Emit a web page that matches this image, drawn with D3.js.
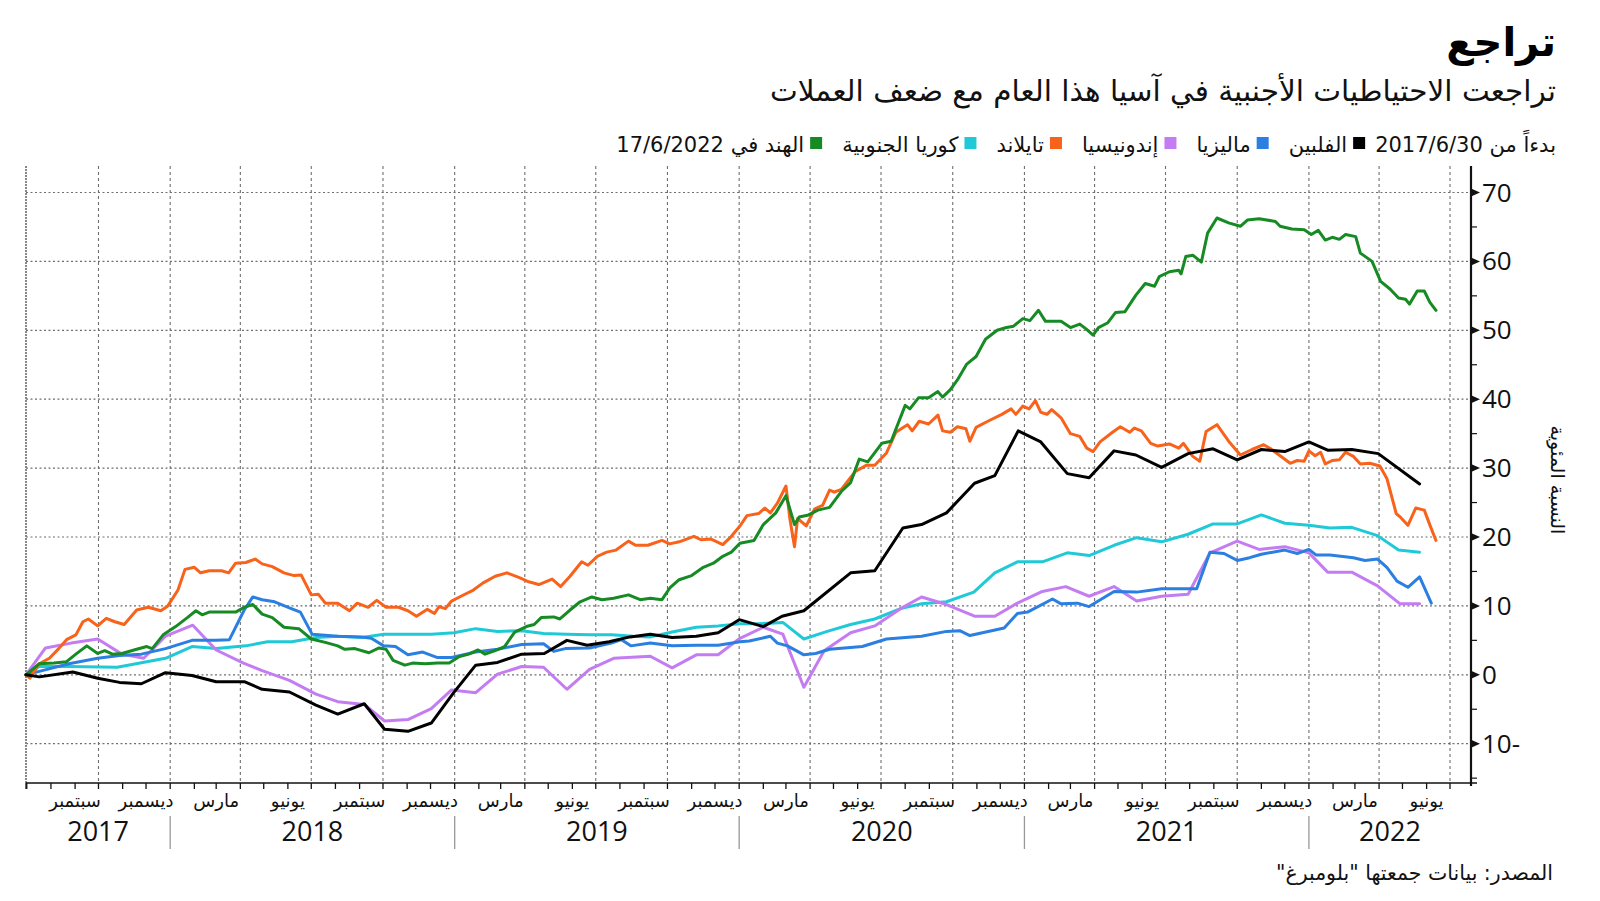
<!DOCTYPE html>
<html><head><meta charset="utf-8">
<script src="https://cdn.jsdelivr.net/npm/d3@7"></script>
<style>
body{margin:0;background:#fff}
svg{display:block}
.ar{font-family:"DejaVu Sans",sans-serif;direction:rtl;unicode-bidi:embed}
.num{font-family:"Open Sans",sans-serif}
</style>
</head><body>
<svg id="c" width="1600" height="901"></svg>
<script>
// ---------------- DATA ----------------
// x values are days since 30/6/2017; y values are percentage change
const startDate = new Date(2017, 5, 30);
const endDate = new Date(2022, 6, 1);

const titleText = "تراجع";
const subtitleText = "تراجعت الاحتياطيات الأجنبية في آسيا هذا العام مع ضعف العملات";
const legendLead = "بدءاً من 2017/6/30";
const legendTail = "في 17/6/2022";
const sourceText = "المصدر: بيانات جمعتها \"بلومبرغ\"";
const yAxisTitle = "النسبة المئوية";

const seriesNames = ["الفلبين", "ماليزيا", "إندونيسيا", "تايلاند", "كوريا الجنوبية", "الهند"];
const seriesColors = ["#000000", "#2a7fe0", "#c47cf2", "#f8621a", "#20c9d6", "#168a23"];

// Philippines (black)
const phDays = [0,17,60,92,120,148,179,213,244,280,303,338,372,400,434,460,490,520,548,577,605,636,665,694,720,748,775,801,829,860,888,915,946,970,998,1058,1089,1125,1149,1181,1217,1243,1273,1302,1336,1364,1396,1424,1457,1491,1523,1554,1585,1615,1646,1670,1701,1735,1788];
const phValues = [0,-0.3,0.4,-0.5,-1.1,-1.3,0.3,-0.1,-1.0,-1.0,-2.1,-2.5,-4.4,-5.7,-4.2,-7.9,-8.2,-7.0,-2.7,1.4,1.8,3.0,3.1,5.0,4.3,4.8,5.5,5.9,5.4,5.6,6.1,8.0,7.0,8.5,9.3,14.8,15.1,21.3,21.8,23.5,27.8,28.9,35.4,33.8,29.2,28.6,32.5,31.9,30.1,32.1,32.8,31.2,32.7,32.4,33.8,32.6,32.7,32.1,27.7];

// Malaysia (blue)
const myDays = [0,17,55,92,120,148,179,213,244,261,280,291,303,319,338,352,367,400,431,443,459,474,490,509,528,546,577,605,636,664,677,692,723,751,764,776,801,829,860,888,916,928,955,964,977,998,1013,1031,1073,1104,1149,1181,1198,1211,1255,1272,1285,1317,1328,1349,1364,1396,1425,1457,1502,1519,1537,1554,1570,1585,1615,1631,1646,1655,1673,1703,1718,1734,1746,1759,1773,1788,1803];
const myValues = [0,0.5,1.6,2.4,2.8,3.0,3.8,5.0,5.0,5.1,9.4,11.3,10.9,10.6,9.7,9.1,5.9,5.6,5.5,5.3,4.2,4.1,2.9,3.3,2.5,2.5,3.3,3.7,4.4,4.5,3.4,3.8,3.9,4.6,5.1,4.2,4.6,4.2,4.3,4.3,4.8,4.9,5.6,4.6,4.2,2.9,3.1,3.7,4.1,5.2,5.6,6.3,6.4,5.7,6.8,8.9,9.1,11.0,10.3,10.4,9.9,12.1,12.0,12.5,12.5,17.8,17.6,16.6,17.0,17.5,18.1,17.6,18.2,17.4,17.4,17.0,16.6,16.8,15.6,13.6,12.7,14.2,10.4];

// Indonesia (purple)
const idDays = [0,25,58,92,123,151,179,214,244,279,303,338,372,400,434,460,490,520,546,577,605,636,664,694,723,754,801,829,860,888,916,946,971,998,1024,1058,1089,1122,1149,1181,1217,1243,1272,1304,1334,1364,1396,1425,1457,1491,1519,1554,1582,1615,1646,1670,1701,1734,1763,1788];
const idValues = [0,3.9,4.6,5.2,3.0,2.4,5.6,7.2,3.6,1.7,0.6,-0.8,-2.8,-3.9,-4.3,-6.7,-6.5,-4.9,-2.2,-2.6,0.1,1.2,1.1,-2.1,0.8,2.4,2.7,1.0,2.9,2.9,5.3,6.9,5.9,-1.8,3.5,6.1,7.1,9.6,11.3,10.2,8.5,8.5,10.4,12.1,12.8,11.4,12.8,10.7,11.4,11.7,17.7,19.4,18.2,18.6,17.7,14.9,14.9,12.9,10.3,10.3];

// Thailand (orange)
const thDays = [0,5,17,30,42,52,64,73,80,92,103,114,126,142,157,173,182,195,204,216,224,235,251,260,269,282,294,303,316,331,344,353,366,375,384,400,415,425,439,450,462,478,490,501,515,524,530,538,546,558,574,586,602,617,633,645,658,675,686,698,713,721,733,745,757,773,782,798,816,826,838,857,866,879,894,905,916,925,940,948,955,964,975,980,986,990,1001,1012,1022,1031,1037,1046,1064,1078,1089,1104,1116,1131,1137,1146,1158,1170,1176,1186,1195,1206,1211,1219,1234,1252,1264,1270,1279,1287,1295,1302,1310,1316,1328,1340,1352,1361,1369,1378,1394,1404,1416,1422,1431,1443,1452,1467,1479,1485,1497,1506,1514,1528,1543,1558,1573,1588,1597,1609,1622,1631,1640,1646,1654,1661,1667,1676,1685,1693,1703,1712,1724,1737,1746,1758,1764,1773,1783,1794,1801,1809];
const thValues = [0,-0.5,1.6,2.4,3.8,5.1,5.8,7.7,8.1,7.1,8.2,7.7,7.3,9.4,9.8,9.3,10.0,12.3,15.3,15.6,14.8,15.1,15.1,14.8,16.2,16.3,16.8,16.1,15.7,14.8,14.4,14.5,11.6,11.7,10.4,10.4,9.3,10.4,9.8,10.8,9.8,9.8,9.3,8.5,9.5,8.9,9.9,9.6,10.7,11.4,12.3,13.3,14.3,14.8,14.1,13.5,13.1,13.9,12.8,14.3,16.4,15.9,17.2,17.8,18.1,19.4,18.8,18.8,19.5,19.0,19.3,20.1,19.6,19.7,18.9,20.1,21.6,23.1,23.4,24.2,23.5,24.9,27.4,22.7,18.6,22.7,21.6,24.1,24.6,26.8,26.5,26.9,29.5,30.4,30.4,32.2,35.2,36.3,35.4,36.8,36.4,37.7,35.4,35.2,36.0,35.7,33.9,35.9,36.8,37.8,38.6,37.8,39.0,38.6,39.8,38.1,37.8,38.5,37.3,35.0,34.6,32.9,32.4,33.8,35.2,36.0,35.2,35.8,35.4,33.6,33.2,33.5,32.9,33.6,31.7,31.0,35.3,36.3,33.9,31.9,32.7,33.4,32.8,31.8,30.7,31.1,31.0,32.5,31.8,32.3,30.6,31.1,31.2,32.3,31.7,30.6,30.7,30.3,28.5,23.4,22.8,21.7,24.2,23.9,21.8,19.5];

// South Korea (cyan)
const krDays = [0,17,55,117,179,213,244,282,310,341,372,400,431,459,490,520,549,577,605,636,664,694,723,751,779,801,829,860,888,916,940,971,998,1028,1058,1089,1122,1149,1181,1216,1243,1272,1304,1336,1364,1396,1425,1457,1491,1523,1554,1585,1615,1646,1673,1701,1734,1761,1788];
const krValues = [0,1.2,1.2,1.1,2.4,4.1,3.8,4.2,4.8,4.8,5.4,5.6,5.4,5.9,5.9,5.9,6.1,6.7,6.3,6.4,6.0,5.9,5.8,5.8,5.6,5.5,6.2,6.9,7.1,7.4,7.4,7.6,5.2,6.3,7.3,8.1,9.6,10.3,10.6,12.0,14.8,16.4,16.4,17.7,17.3,18.8,19.9,19.3,20.4,21.9,21.9,23.2,22.0,21.7,21.3,21.4,20.2,18.1,17.8];

// India (green)
const inDays = [0,17,36,52,64,78,92,101,111,123,142,155,162,176,192,207,218,226,235,257,269,280,291,303,316,331,350,366,384,400,409,422,440,453,462,471,486,496,512,528,543,555,568,580,589,602,614,627,642,652,661,677,685,698,711,726,739,754,773,788,801,816,826,838,854,869,882,894,905,916,934,946,962,975,986,992,1004,1016,1031,1046,1058,1069,1080,1098,1110,1128,1134,1145,1158,1170,1176,1186,1195,1207,1219,1231,1246,1258,1267,1279,1288,1299,1308,1328,1340,1352,1360,1369,1376,1388,1398,1410,1424,1436,1448,1454,1467,1479,1482,1488,1497,1508,1516,1528,1543,1558,1567,1582,1603,1609,1624,1640,1649,1658,1667,1676,1685,1693,1706,1712,1727,1738,1750,1761,1770,1775,1785,1794,1801,1809];
const inValues = [0,1.6,1.7,1.9,3.0,4.2,3.1,3.5,3.0,3.1,3.7,4.1,3.8,5.8,7.0,8.3,9.3,8.7,9.1,9.1,9.1,9.8,10.2,8.8,8.3,6.9,6.7,5.2,4.7,4.2,3.7,3.8,3.2,3.9,3.7,2.1,1.4,1.7,1.6,1.7,1.7,2.6,3.0,3.6,3.0,3.5,4.1,6.2,7.0,7.3,8.3,8.4,8.1,9.4,10.6,11.3,10.9,11.1,11.6,10.9,11.1,10.9,12.6,13.8,14.4,15.6,16.2,17.2,17.8,19.1,19.5,21.8,23.5,26.0,21.8,22.9,23.2,23.9,24.3,26.6,27.9,31.3,30.9,33.6,33.9,39.1,38.6,40.2,40.2,41.1,40.3,41.4,42.8,45.1,46.2,48.7,50.0,50.4,50.6,51.7,51.4,52.9,51.3,51.3,50.4,50.9,50.2,49.3,50.4,51.1,52.6,52.7,55.1,56.8,56.4,57.8,58.5,58.7,58.2,60.7,60.9,59.9,64.1,66.3,65.6,65.1,66.0,66.2,65.8,65.1,64.7,64.6,63.9,64.5,63.1,63.5,63.2,63.9,63.6,61.2,60.0,57.1,56.0,54.7,54.5,53.8,55.7,55.7,54.1,52.9];

const yTicks = [-10, 0, 10, 20, 30, 40, 50, 60, 70];
const yTickLabels = ["10-", "0", "10", "20", "30", "40", "50", "60", "70"];
const yMinorTicks = [-15, -5, 5, 15, 25, 35, 45, 55, 65];
const monthNames = {2: "مارس", 5: "يونيو", 8: "سبتمبر", 11: "ديسمبر"};
const years = [2017, 2018, 2019, 2020, 2021, 2022];

// ---------------- LAYOUT ----------------
const plotLeft = 26, plotTop = 166, plotBottom = 783, axisX = 1471;
const svg = d3.select("#c");
svg.append("rect").attr("width", 1600).attr("height", 901).attr("fill", "#fff");

const x = d3.scaleTime().domain([startDate, endDate]).range([26, 1450]);
const y = d3.scaleLinear().domain([-10, 70]).range([743.7, 192.5]);

// gridlines
const grid = svg.append("g");
grid.selectAll("line.h").data(yTicks).join("line")
  .attr("x1", plotLeft).attr("x2", axisX)
  .attr("y1", d => y(d)).attr("y2", d => y(d))
  .attr("stroke", "#6f6f6f").attr("stroke-width", 1.2).attr("stroke-dasharray", "2,2.5");
const quarterDates = d3.timeMonth.range(new Date(2017, 9, 1), new Date(2022, 6, 2), 3);
grid.selectAll("line.v").data(quarterDates).join("line")
  .attr("x1", d => x(d)).attr("x2", d => x(d))
  .attr("y1", plotTop).attr("y2", plotBottom)
  .attr("stroke", "#6f6f6f").attr("stroke-width", 1.1).attr("stroke-dasharray", "3,3");
// left border
svg.append("line").attr("x1", plotLeft).attr("x2", plotLeft).attr("y1", plotTop).attr("y2", plotBottom)
  .attr("stroke", "#888").attr("stroke-width", 2).attr("stroke-dasharray", "2,1");

// series
const series = [
  {days: krDays, values: krValues, color: seriesColors[4]},
  {days: idDays, values: idValues, color: seriesColors[2]},
  {days: myDays, values: myValues, color: seriesColors[1]},
  {days: thDays, values: thValues, color: seriesColors[3]},
  {days: inDays, values: inValues, color: seriesColors[5]},
  {days: phDays, values: phValues, color: seriesColors[0]}
];
const line = d3.line().x(d => x(d.date)).y(d => y(d.v));
series.forEach(s => {
  const pts = s.days.map((d, i) => ({date: d3.timeDay.offset(startDate, d), v: s.values[i]}));
  svg.append("path").datum(pts).attr("d", line)
    .attr("fill", "none").attr("stroke", s.color).attr("stroke-width", 3)
    .attr("stroke-linejoin", "round").attr("stroke-linecap", "round");
});

// x axis
svg.append("line").attr("x1", plotLeft).attr("x2", axisX).attr("y1", plotBottom).attr("y2", plotBottom)
  .attr("stroke", "#111").attr("stroke-width", 1.6);
const monthTicks = d3.timeMonth.range(new Date(2017, 6, 1), new Date(2022, 6, 2));
svg.selectAll("line.mt").data([startDate].concat(monthTicks)).join("line")
  .attr("x1", d => x(d)).attr("x2", d => x(d))
  .attr("y1", plotBottom).attr("y2", plotBottom + 6)
  .attr("stroke", "#111").attr("stroke-width", 1.3);
const labelMonths = d3.timeMonth.range(new Date(2017, 8, 1), new Date(2022, 5, 2), 3);
svg.selectAll("text.ml").data(labelMonths).join("text")
  .attr("class", "ar").attr("x", d => x(d)).attr("y", 807)
  .attr("text-anchor", "middle").attr("font-size", 18).attr("fill", "#111")
  .text(d => monthNames[d.getMonth()]);
// year separators
const yearStarts = years.slice(1).map(yr => new Date(yr, 0, 1));
svg.selectAll("line.ys").data(yearStarts).join("line")
  .attr("x1", d => x(d)).attr("x2", d => x(d)).attr("y1", 816).attr("y2", 849)
  .attr("stroke", "#999").attr("stroke-width", 1.3);
svg.selectAll("text.yl").data(years).join("text")
  .attr("class", "num")
  .attr("x", yr => {
    const a = Math.max(plotLeft, x(new Date(yr, 0, 1)));
    const b = Math.min(axisX, x(new Date(yr + 1, 0, 1)));
    return (a + b) / 2;
  })
  .attr("y", 841).attr("text-anchor", "middle").attr("font-size", 27).attr("fill", "#111")
  .text(d => d);

// y axis
svg.append("line").attr("x1", axisX).attr("x2", axisX).attr("y1", plotTop).attr("y2", plotBottom + 3)
  .attr("stroke", "#111").attr("stroke-width", 2.2);
svg.append("line").attr("x1", axisX).attr("x2", axisX + 6).attr("y1", plotBottom).attr("y2", plotBottom)
  .attr("stroke", "#111").attr("stroke-width", 1.5);
svg.selectAll("path.tri").data(yTicks).join("path")
  .attr("d", d => `M${axisX},${y(d) - 4}L${axisX + 9},${y(d)}L${axisX},${y(d) + 4}Z`)
  .attr("fill", "#111");
svg.selectAll("line.mn").data(yMinorTicks).join("line")
  .attr("x1", axisX).attr("x2", axisX + 6)
  .attr("y1", d => y(d)).attr("y2", d => y(d))
  .attr("stroke", "#111").attr("stroke-width", 1.2);
svg.selectAll("text.yt").data(yTicks).join("text")
  .attr("class", "num").attr("x", axisX + 11).attr("y", d => y(d) + 9)
  .attr("font-size", 26).attr("fill", "#111")
  .text((d, i) => yTickLabels[i]);
svg.append("text").attr("class", "ar")
  .attr("transform", "translate(1551,480) rotate(90)")
  .attr("text-anchor", "middle").attr("font-size", 19).attr("fill", "#111")
  .text(yAxisTitle);

// titles
svg.append("text").attr("class", "ar").attr("x", 1556).attr("y", 56)
  .attr("text-anchor", "start").attr("font-size", 40).attr("font-weight", "bold").attr("fill", "#000")
  .text(titleText);
svg.append("text").attr("class", "ar").attr("x", 1556).attr("y", 101)
  .attr("text-anchor", "start").attr("font-size", 29.5).attr("fill", "#111")
  .text(subtitleText);

// legend (right to left)
const lg = svg.append("g");
let cursor = 1556;
const legendY = 152;
const lead = lg.append("text").attr("class", "ar").attr("x", cursor).attr("y", legendY)
  .attr("text-anchor", "start").attr("font-size", 21).attr("fill", "#111").text(legendLead);
cursor -= lead.node().getComputedTextLength() + 10;
seriesNames.forEach((name, i) => {
  lg.append("rect").attr("x", cursor - 12).attr("y", legendY - 15).attr("width", 12).attr("height", 12)
    .attr("fill", seriesColors[i]);
  cursor -= 12 + 6;
  const label = i === seriesNames.length - 1 ? name + " " + legendTail : name;
  const t = lg.append("text").attr("class", "ar").attr("x", cursor).attr("y", legendY)
    .attr("text-anchor", "start").attr("font-size", 21).attr("fill", "#111").text(label);
  cursor -= t.node().getComputedTextLength() + 20;
});

// source
svg.append("text").attr("class", "ar").attr("x", 1553).attr("y", 880)
  .attr("text-anchor", "start").attr("font-size", 20.5).attr("fill", "#111")
  .text(sourceText);
</script>
</body></html>
